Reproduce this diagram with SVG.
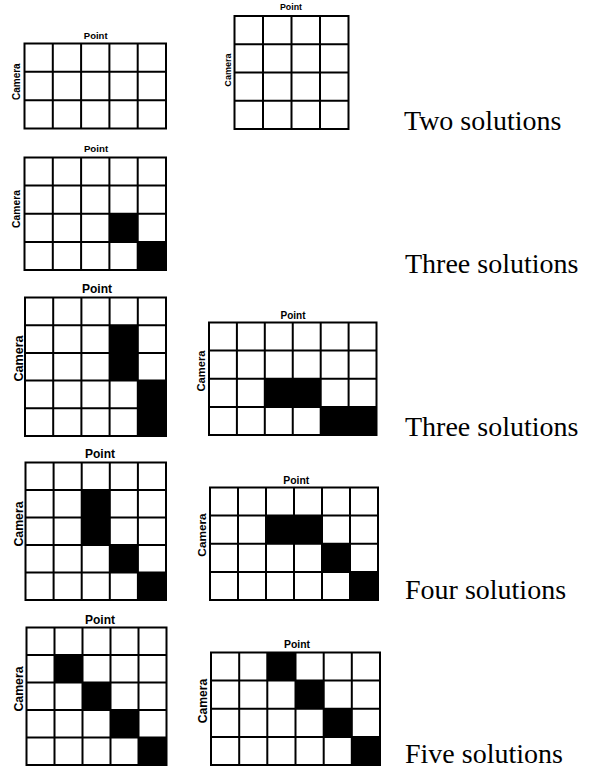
<svg xmlns="http://www.w3.org/2000/svg" width="593" height="771" viewBox="0 0 593 771">
<style>
.bg{fill:#fff}
.grid{fill:none;stroke:#000;stroke-width:2;stroke-linecap:square}
.blk{fill:#000}
.lbl{font-family:"Liberation Sans",Arial,sans-serif;font-weight:bold;fill:#000;text-anchor:middle}
.cap{font-family:"Liberation Serif","Times New Roman",serif;font-size:28px;fill:#000}
</style>
<rect class="bg" x="0" y="0" width="593" height="771"/>

<g id="grid1">
<path class="grid" d="M24.5 43.5H166V128.5H24.5Z M52.8 43.5V128.5 M81.1 43.5V128.5 M109.4 43.5V128.5 M137.7 43.5V128.5 M24.5 71.8H166 M24.5 100.2H166"/>
<text class="lbl" x="95.7" y="39.3" font-size="9.5">Point</text>
<text class="lbl" font-size="10" transform="translate(19.5 81.7) rotate(-90)">Camera</text>
</g>

<g id="grid2">
<path class="grid" d="M234.5 16H348.5V129H234.5Z M263 16V129 M291.5 16V129 M320 16V129 M234.5 44.25H348.5 M234.5 72.5H348.5 M234.5 100.75H348.5"/>
<text class="lbl" x="291" y="10" font-size="8.8">Point</text>
<text class="lbl" font-size="9.1" transform="translate(230.5 70) rotate(-90)">Camera</text>
</g>

<g id="grid3">
<rect class="blk" x="109.4" y="213.75" width="28.3" height="28.15"/>
<rect class="blk" x="137.7" y="241.9" width="28.3" height="28.1"/>
<path class="grid" d="M24.5 157.5H166V270H24.5Z M52.8 157.5V270 M81.1 157.5V270 M109.4 157.5V270 M137.7 157.5V270 M24.5 185.6H166 M24.5 213.75H166 M24.5 241.9H166"/>
<text class="lbl" x="96" y="152.3" font-size="9.7">Point</text>
<text class="lbl" font-size="10.3" transform="translate(19.5 209) rotate(-90)">Camera</text>
</g>

<g id="grid4">
<rect class="blk" x="109.6" y="325.2" width="28.2" height="55.4"/>
<rect class="blk" x="137.8" y="380.6" width="28.2" height="55.4"/>
<path class="grid" d="M25 297.5H166V436H25Z M53.2 297.5V436 M81.4 297.5V436 M109.6 297.5V436 M137.8 297.5V436 M25 325.2H166 M25 352.9H166 M25 380.6H166 M25 408.3H166"/>
<text class="lbl" x="97" y="293" font-size="12">Point</text>
<text class="lbl" font-size="12.6" transform="translate(22.5 358.5) rotate(-90)">Camera</text>
</g>

<g id="grid5">
<rect class="blk" x="264.8" y="378.75" width="55.9" height="28.15"/>
<rect class="blk" x="320.7" y="406.9" width="55.8" height="28.1"/>
<path class="grid" d="M209 322.5H376.5V435H209Z M236.9 322.5V435 M264.8 322.5V435 M292.75 322.5V435 M320.7 322.5V435 M348.6 322.5V435 M209 350.6H376.5 M209 378.75H376.5 M209 406.9H376.5"/>
<text class="lbl" x="293" y="319" font-size="10">Point</text>
<text class="lbl" font-size="11.2" transform="translate(205 371) rotate(-90)">Camera</text>
</g>

<g id="grid6">
<rect class="blk" x="81.7" y="490" width="28.1" height="55"/>
<rect class="blk" x="109.8" y="545" width="28.1" height="27.5"/>
<rect class="blk" x="137.9" y="572.5" width="28.1" height="27.5"/>
<path class="grid" d="M25.5 462.5H166V600H25.5Z M53.6 462.5V600 M81.7 462.5V600 M109.8 462.5V600 M137.9 462.5V600 M25.5 490H166 M25.5 517.5H166 M25.5 545H166 M25.5 572.5H166"/>
<text class="lbl" x="100" y="458" font-size="12">Point</text>
<text class="lbl" font-size="12.3" transform="translate(22.5 524) rotate(-90)">Camera</text>
</g>

<g id="grid7">
<rect class="blk" x="266" y="515.6" width="56" height="28.15"/>
<rect class="blk" x="322" y="543.75" width="28" height="28.15"/>
<rect class="blk" x="350" y="571.9" width="28" height="28.1"/>
<path class="grid" d="M210 487.5H378V600H210Z M238 487.5V600 M266 487.5V600 M294 487.5V600 M322 487.5V600 M350 487.5V600 M210 515.6H378 M210 543.75H378 M210 571.9H378"/>
<text class="lbl" x="296.3" y="484" font-size="10.4">Point</text>
<text class="lbl" font-size="11.8" transform="translate(206 535) rotate(-90)">Camera</text>
</g>

<g id="grid8">
<rect class="blk" x="54.5" y="655" width="28" height="27.5"/>
<rect class="blk" x="82.5" y="682.5" width="28" height="27.5"/>
<rect class="blk" x="110.5" y="710" width="28" height="27.5"/>
<rect class="blk" x="138.5" y="737.5" width="28" height="27.5"/>
<path class="grid" d="M26.5 627.5H166.5V765H26.5Z M54.5 627.5V765 M82.5 627.5V765 M110.5 627.5V765 M138.5 627.5V765 M26.5 655H166.5 M26.5 682.5H166.5 M26.5 710H166.5 M26.5 737.5H166.5"/>
<text class="lbl" x="100" y="623.5" font-size="12">Point</text>
<text class="lbl" font-size="12.3" transform="translate(23 689) rotate(-90)">Camera</text>
</g>

<g id="grid9">
<rect class="blk" x="267.3" y="652.5" width="28.2" height="28.1"/>
<rect class="blk" x="295.5" y="680.6" width="28.2" height="28.15"/>
<rect class="blk" x="323.7" y="708.75" width="28.1" height="28.15"/>
<rect class="blk" x="351.8" y="736.9" width="28.2" height="28.1"/>
<path class="grid" d="M211 652.5H380V765H211Z M239.2 652.5V765 M267.3 652.5V765 M295.5 652.5V765 M323.7 652.5V765 M351.8 652.5V765 M211 680.6H380 M211 708.75H380 M211 736.9H380"/>
<text class="lbl" x="297" y="648" font-size="10.4">Point</text>
<text class="lbl" font-size="12.2" transform="translate(206.5 701) rotate(-90)">Camera</text>
</g>

<g id="captions">
<text class="cap" x="404" y="130">Two solutions</text>
<text class="cap" x="405" y="273">Three solutions</text>
<text class="cap" x="405" y="436">Three solutions</text>
<text class="cap" x="405" y="599">Four solutions</text>
<text class="cap" x="405" y="763">Five solutions</text>
</g>
</svg>
